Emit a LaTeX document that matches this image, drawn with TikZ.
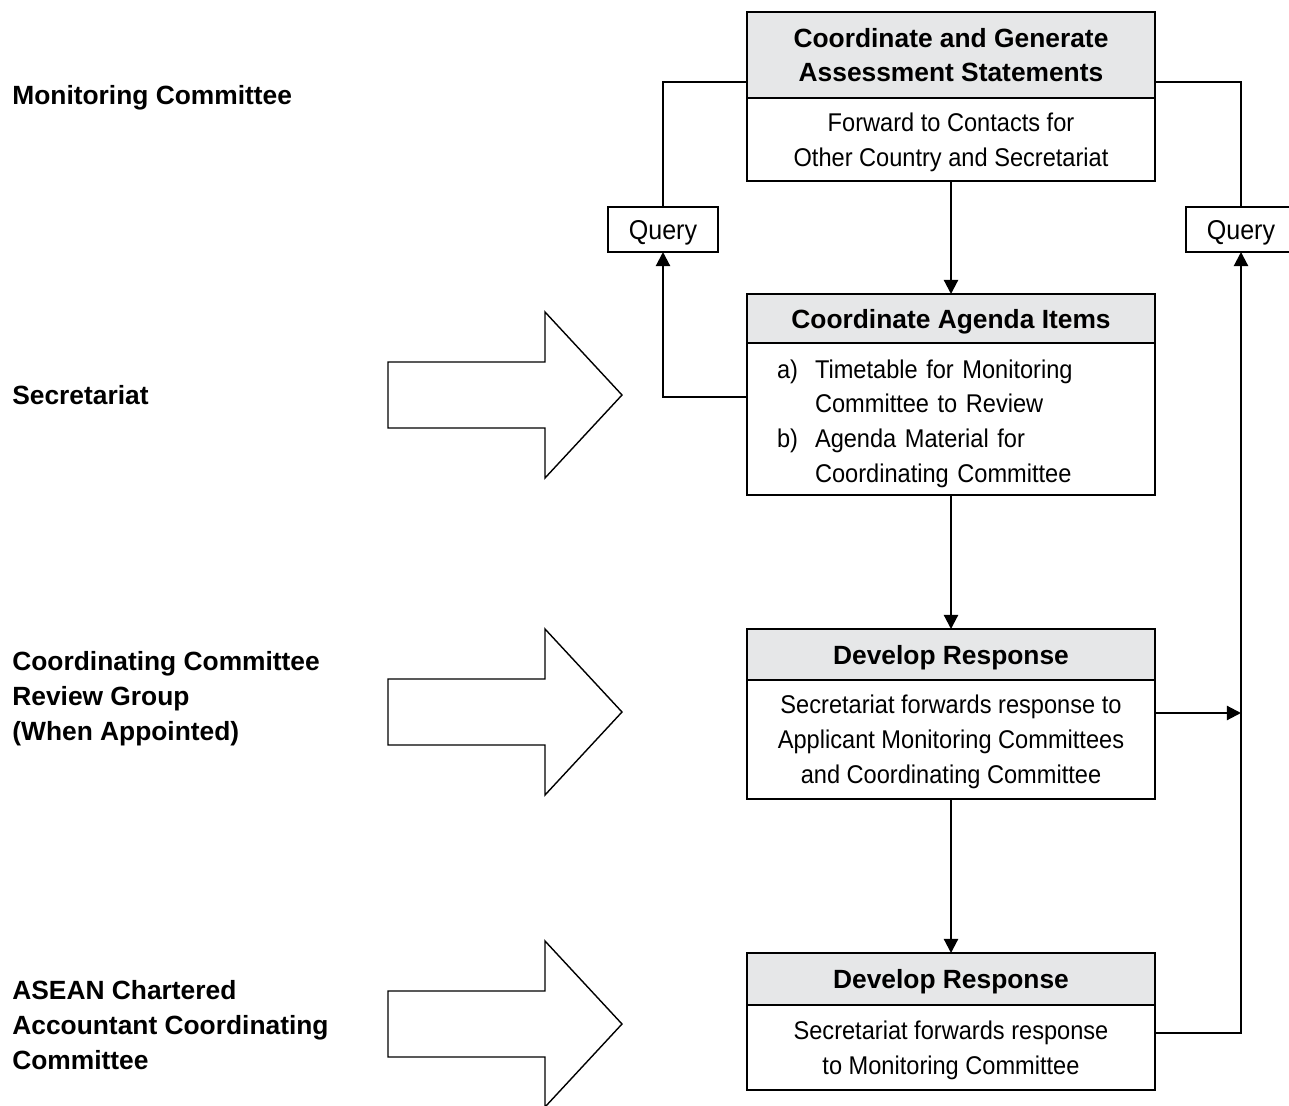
\documentclass[tikz,border=0pt]{standalone}
\usepackage{fontspec}
\setmainfont{Liberation Sans}
\newfontfamily\narrowfont[FakeStretch=0.92]{Liberation Sans}
\usetikzlibrary{arrows.meta,positioning}
\definecolor{hdgray}{RGB}{230,231,232}
\tikzset{
  hdbox/.style={draw,line width=1.4pt,fill=hdgray,minimum width=8.16cm,
    inner sep=2pt,outer sep=0pt,text depth=0pt,
    font=\fontsize{15}{19.8}\selectfont\bfseries,align=center},
  bdbase/.style={draw,line width=1.4pt,fill=white,minimum width=8.16cm,
    inner sep=2pt,outer sep=0pt,
    font=\narrowfont\fontsize{14.6}{19.8}\selectfont,align=center},
  bdbox/.style={bdbase,text depth=0pt},
  qbox/.style={draw,line width=1.4pt,fill=white,minimum width=2.2cm,
    minimum height=0.9cm,inner sep=2pt,outer sep=0pt,text depth=0pt,
    font=\narrowfont\fontsize{15.5}{19.8}\selectfont},
  lbl/.style={anchor=west,inner sep=0pt,align=left,text depth=0pt,
    font=\fontsize{15}{19.8}\selectfont\bfseries},
  ln/.style={line width=1.2pt},
  arr/.style={ln,-{Triangle[length=8pt,width=8pt]}},
  bigarr/.style={draw,line width=0.8pt,line join=miter},
}

\begin{document}
\begin{tikzpicture}[x=0.02cm,y=-0.02cm]
  \useasboundingbox (0,0) rectangle (1289,1106);

  % left column labels
  \node[lbl](lmc) at (12,95) {Monitoring Committee};
  \node[lbl](lsec) at (12,395) {Secretariat};
  \node[lbl](lcc) at (12,696) {Coordinating Committee\\Review Group\\(When Appointed)};
  \node[lbl](lacc) at (12,1025) {ASEAN Chartered\\Accountant Coordinating\\Committee};

  % block arrows
  \foreach \yc in {395,712,1024}
    \draw[bigarr] (388,\yc-33) -- (545,\yc-33) -- (545,\yc-83) -- (622,\yc)
      -- (545,\yc+83) -- (545,\yc+33) -- (388,\yc+33) -- cycle;

  % Monitoring Committee box
  \node[hdbox,minimum height=1.72cm](hd1) at (951,55)
    {Coordinate and Generate\\Assessment Statements};
  \node[bdbox,minimum height=1.66cm,below=0pt of hd1](bd1)
    {Forward to Contacts for\\Other Country and Secretariat};
  % Secretariat box
  \node[hdbox,minimum height=0.98cm](hd2) at (951,318.5) {Coordinate Agenda Items};
  \node[bdbase,minimum height=3.04cm,below=0pt of hd2,
        text width=6.96cm,inner xsep=0.6cm,align=left](bd2)
    {\raisebox{-2.5pt}[\height][\depth]{\begin{tabular}{@{}p{0.76cm}@{}l@{}}
      a) & Timetable for Monitoring\\
         & Committee to Review\\
      b) & Agenda Material for\\
         & Coordinating Committee
     \end{tabular}}};
  % Review Group box
  \node[hdbox,minimum height=1.02cm](hd3) at (951,654.5) {Develop Response};
  \node[bdbox,minimum height=2.38cm,below=0pt of hd3](bd3)
    {Secretariat forwards response to\\Applicant Monitoring Committees\\and Coordinating Committee};
  % Coordinating Committee box
  \node[hdbox,minimum height=1.04cm](hd4) at (951,979) {Develop Response};
  \node[bdbox,minimum height=1.7cm,below=0pt of hd4](bd4)
    {Secretariat forwards response\\to Monitoring Committee};

  % query boxes
  \node[qbox](qL) at (663,229.5) {Query};
  \node[qbox](qR) at (1241,229.5) {Query};

  % main flow
  \draw[arr](bd1.south)--(hd2.north);
  \draw[arr](bd2.south)--(hd3.north);
  \draw[arr](bd3.south)--(hd4.north);

  % query loops
  \draw[ln]([yshift=0.32cm]hd1.south west) -| (qL.north);
  \draw[arr]([yshift=-1.08cm]bd2.north west) -| (qL.south);
  \draw[ln]([yshift=0.32cm]hd1.south east) -| (qR.north);
  \draw[arr]([yshift=-0.56cm]bd4.north east) -| (qR.south);
  \coordinate (r3) at ([yshift=-0.66cm]bd3.north east);
  \draw[arr](r3)--(r3 -| qR.south);
\end{tikzpicture}
\end{document}
